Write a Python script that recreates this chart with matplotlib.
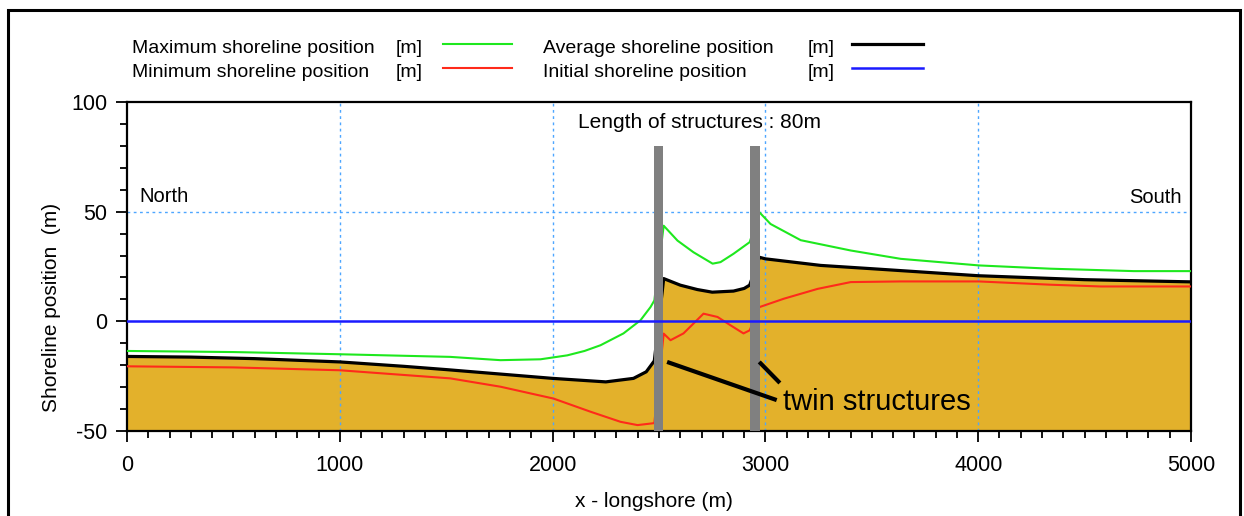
"""
Shoreline evolution around twin structures: max / min / average shoreline
position along the coast, with the initial shoreline as reference.
"""

import matplotlib

matplotlib.use("Agg")
from matplotlib import pyplot as plt
from matplotlib.lines import Line2D
from matplotlib.patches import Rectangle
from matplotlib.ticker import MultipleLocator

plt.rcParams["font.family"] = ["Liberation Sans", "DejaVu Sans"]
plt.rcParams["axes.unicode_minus"] = False

# Average shoreline position (m)
avg_x = [0, 300, 600, 1000, 1300, 1500, 1750, 2000, 2250, 2380, 2440, 2478,
         2522, 2600, 2680, 2750, 2850, 2900, 2926,
         2972, 3000, 3260, 3500, 4000, 4500, 5000]
avg_y = [-16.0, -16.3, -17.0, -18.5, -20.5, -22.0, -24.0, -26.0, -27.6, -26.0, -23.0, -18.0,
         19.5, 16.5, 14.5, 13.3, 13.8, 15.0, 16.5,
         29.2, 28.5, 25.5, 24.0, 20.8, 19.0, 18.0]

# Maximum shoreline position (m)
max_x = [0, 500, 1000, 1519, 1755, 1943, 2069, 2150, 2225, 2333, 2413, 2460, 2478,
         2522, 2587, 2662, 2752, 2789, 2850, 2926,
         2972, 3024, 3166, 3401, 3636, 4003, 4341, 4732, 5000]
max_y = [-13.5, -14.0, -15.0, -16.2, -17.7, -17.3, -15.5, -13.5, -10.9, -5.5, 0.5, 6.5, 9.5,
         43.6, 36.8, 31.5, 26.3, 27.0, 30.8, 36.1,
         49.7, 44.4, 37.0, 32.3, 28.5, 25.5, 24.0, 22.9, 22.9]

# Minimum shoreline position (m)
min_x = [0, 500, 1000, 1519, 1755, 2004, 2178, 2319, 2399, 2478,
         2522, 2554, 2615, 2709, 2775, 2836, 2897, 2926,
         2972, 3086, 3245, 3401, 3636, 4003, 4341, 4577, 5000]
min_y = [-20.5, -21.0, -22.3, -26.0, -29.8, -35.2, -41.2, -45.8, -47.3, -46.4,
         -5.6, -8.6, -5.5, 3.5, 2.0, -1.8, -5.5, -4.1,
         6.5, 10.3, 14.8, 17.9, 18.2, 18.2, 16.7, 15.9, 15.9]

# Initial shoreline position (m)
init_x = [0, 5000]
init_y = [0, 0]

# Twin structures: centre position and length (m)
struct_x = [2498, 2950]
struct_len = [80, 80]
struct_width = 45

ymin, ymax = -50, 100

fig = plt.figure(figsize=(12.44, 5.16), dpi=100)
ax = fig.add_axes([0.1021, 0.1647, 0.8553, 0.6376])

# sand body below the average shoreline
ax.fill_between(avg_x, avg_y, ymin, color="#e3b12b", lw=0, zorder=1)

ax.plot(max_x, max_y, color="#1ee81e", lw=1.5, zorder=3)
ax.plot(min_x, min_y, color="#ff2a1a", lw=1.5, zorder=3)
ax.plot(avg_x, avg_y, color="black", lw=2.3, zorder=3)

# structures drawn on top of the shoreline curves
ax.bar(struct_x, [h - ymin for h in struct_len], bottom=ymin, width=struct_width,
       color="#808080", zorder=4)

ax.plot(init_x, init_y, color="#1a1aff", lw=1.8, zorder=5)

# grid
for gx in [1000, 2000, 3000, 4000]:
    ax.axvline(gx, color="#4da6ff", lw=1, ls=(0, (2, 2.5)), zorder=2.5)
ax.axhline(50, color="#4da6ff", lw=1, ls=(0, (2, 2.5)), zorder=2.5)

ax.set_xlim(0, 5000)
ax.set_ylim(ymin, ymax)
ax.xaxis.set_major_locator(MultipleLocator(1000))
ax.xaxis.set_minor_locator(MultipleLocator(100))
ax.yaxis.set_major_locator(MultipleLocator(50))
ax.yaxis.set_minor_locator(MultipleLocator(10))
ax.tick_params(which="major", direction="out", length=8, width=1.3, labelsize=15.5,
               colors="black", pad=6)
ax.tick_params(which="minor", direction="out", length=5, width=1.3)
ax.tick_params(axis="x", which="major", pad=9)
for sp in ax.spines.values():
    sp.set_linewidth(1.6)

ax.set_xlabel("x - longshore (m)", fontsize=15)
ax.xaxis.set_label_coords(0.495, -0.185)
ax.set_ylabel("Shoreline position  (m)", fontsize=15)
ax.yaxis.set_label_coords(-0.062, 0.377)

# annotations
ax.text(58, 54.3, "North", fontsize=14.5, ha="left", va="baseline")
ax.text(4956, 53.8, "South", fontsize=14.5, ha="right", va="baseline")
ax.text(2690, 88.0, "Length of structures : 80m", fontsize=15, ha="center",
        va="baseline", zorder=6)
ax.text(3083, -40.5, "twin structures", fontsize=21, ha="left", va="baseline", zorder=6)
ax.plot([2538, 3053], [-18.5, -35.9], color="black", lw=3, solid_capstyle="butt", zorder=6)
ax.plot([2971, 3068], [-18.5, -28.1], color="black", lw=3, solid_capstyle="butt", zorder=6)

# legend, laid out by hand as in the original
W, H = 1244, 516
legend_rows = [
    (132, 423, 443, 512, 53, 44.3, "Maximum shoreline position", "#1ee81e", 1.5),
    (132, 423, 443, 512, 77, 67.7, "Minimum shoreline position", "#ff2a1a", 1.5),
    (543, 835, 852, 923, 53, 44.3, "Average shoreline position", "black", 2.3),
    (543, 835, 852, 923, 77, 67.7, "Initial shoreline position", "#1a1aff", 1.8),
]
for tx, ux, l0, l1, base, ly, label, col, lw in legend_rows:
    fig.text(tx / W, 1 - base / H, label, fontsize=14, ha="left", va="baseline")
    fig.text(ux / W, 1 - base / H, "[m]", fontsize=14, ha="right", va="baseline")
    fig.add_artist(Line2D([l0 / W, l1 / W], [1 - ly / H, 1 - ly / H], color=col, lw=lw,
                          transform=fig.transFigure))

# outer frame
fig.add_artist(Rectangle((8 / W, -0.05), (1240 - 8) / W, 1.05 - 10 / H, fill=False,
                         edgecolor="black", lw=2.2, transform=fig.transFigure))

fig.savefig("out.png", dpi=100)
